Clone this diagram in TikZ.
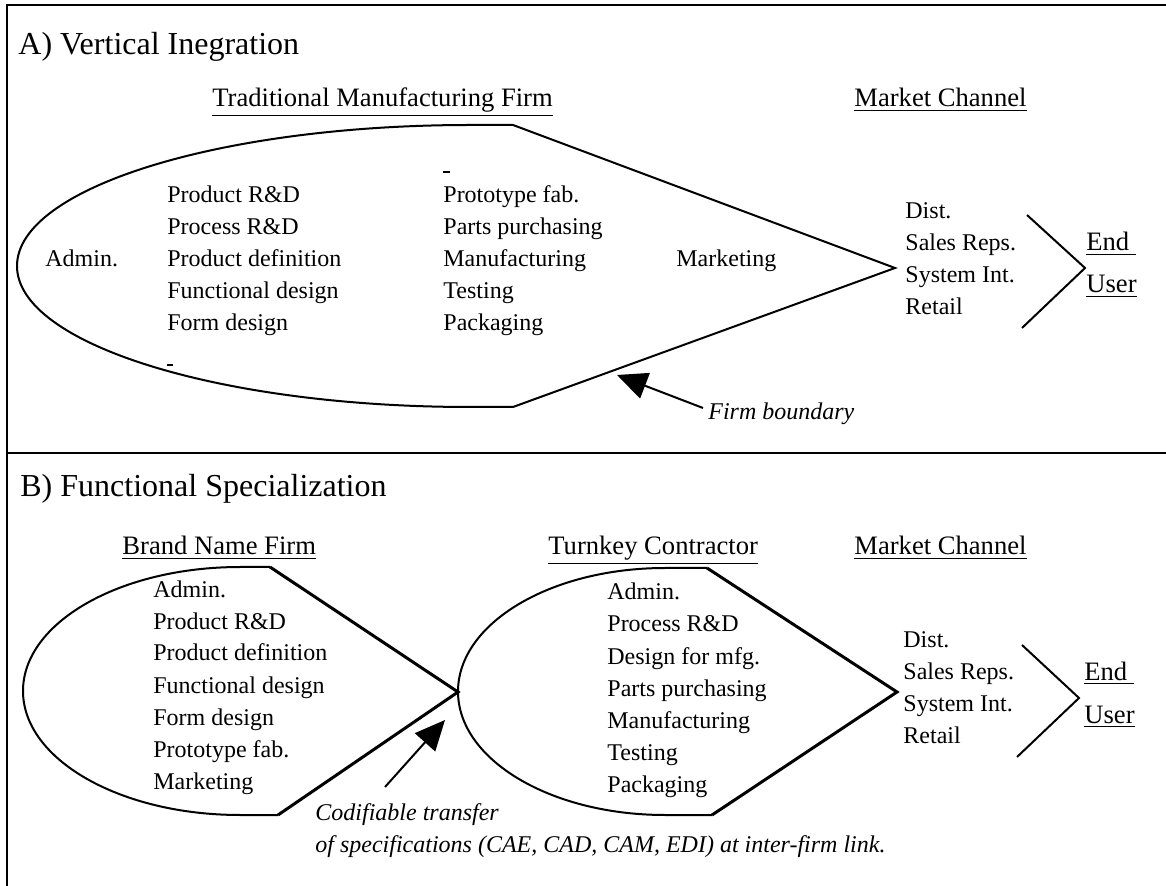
\documentclass[tikz,border=0pt]{standalone}
\usepackage{fontspec}
\setmainfont{Liberation Serif}
\usetikzlibrary{arrows.meta}

\begin{document}
\begin{tikzpicture}[
    x=0.5pt,
    y=-0.5pt,
    every node/.style={inner sep=0pt, anchor=base west},
    item/.style={font=\fontsize{12}{14}\selectfont},
    head/.style={font=\fontsize{13.3}{16}\selectfont},
    title/.style={font=\fontsize{16}{19}\selectfont},
    note/.style={font=\fontsize{12}{14}\selectfont\itshape},
    panelline/.style={draw=black, line width=1.2pt},
    boundary/.style={draw=black, line width=1pt},
    firmedge/.style={draw=black, line width=1pt},
    thickedge/.style={draw=black, line width=1.5pt},
    chevron/.style={draw=black, line width=1pt},
    pointer/.style={draw=black, line width=1pt, -{Triangle[length=15pt, width=13.5pt]}}
  ]
    \useasboundingbox (0,0) rectangle (1166,886);
    % frame
    \draw[panelline] (7,886) -- (7,5) -- (1166,5);
    \draw[panelline] (7,453) -- (1166,453);

    % A) vertical integration
    \node[title] (titleA) at (18,55) {A) Vertical Inegration};
    \node[head] (tmf) at (212,107) {\underline{Traditional Manufacturing Firm}};
    \node[head] (mchA) at (854,107) {\underline{Market Channel}};
    \draw[boundary] (513,125) -- (470,125)
      arc[start angle=270, end angle=90, x radius=453, y radius=141] -- (513,407);
    \draw[firmedge] (513,125) -- (895,268) -- (513,407);
    \draw[line width=0.8pt] (443,172) -- (450,172);
    \draw[line width=0.8pt] (167,365) -- (173,365);
    \node[item] (adminA) at (45,267) {Admin.};
    \foreach \txt [count=\i] in {Product R\&D, Process R\&D, Product definition, Functional design, Form design}
      \node[item] (a1-\i) at (167,{171+32*\i}) {\txt};
    \foreach \txt [count=\i] in {Prototype fab., Parts purchasing, Manufacturing, Testing, Packaging}
      \node[item] (a2-\i) at (443,{171+32*\i}) {\txt};
    \node[item] (mktA) at (676,267) {Marketing};
    \foreach \txt [count=\i] in {Dist., Sales Reps., System Int., Retail}
      \node[item] (chA-\i) at (905,{187+32*\i}) {\txt};
    \draw[chevron] (1027,215) -- (1085,268) -- (1022,328);
    \node[head] (endA) at (1086,251) {\underline{End\ }};
    \node[head] (userA) at (1086,293) {\underline{User}};
    \node[note] (fb) at (708,420) {Firm boundary};
    \coordinate (fbtail) at (703,408);
    \coordinate (fbtip) at (617,375);
    \draw[pointer] (fbtail) -- (fbtip);

    % B) functional specialization
    \node[title] (titleB) at (20,497) {B) Functional Specialization};
    \node[head] (bnf) at (122,555) {\underline{Brand Name Firm}};
    \node[head] (tkc) at (548,555) {\underline{Turnkey Contractor}};
    \node[head] (mchB) at (854,555) {\underline{Market Channel}};
    \draw[boundary] (270,567) -- (240,567)
      arc[start angle=270, end angle=90, x radius=217, y radius=124] -- (278,815);
    \draw[thickedge] (270,567) -- (458,692) -- (278,815);
    \draw[boundary] (707,568) -- (665,568)
      arc[start angle=270, end angle=90, x radius=207, y radius=123.5] -- (712,815);
    \draw[thickedge] (707,568) -- (897,692) -- (712,815);
    \foreach \txt [count=\i] in {Admin., Product R\&D, Product definition, Functional design, Form design, Prototype fab., Marketing}
      \node[item] (b1-\i) at (153,{565+32*\i}) {\txt};
    \foreach \txt [count=\i] in {Admin., Process R\&D, Design for mfg., Parts purchasing, Manufacturing, Testing, Packaging}
      \node[item] (b2-\i) at (607,{568+32*\i}) {\txt};
    \foreach \txt [count=\i] in {Dist., Sales Reps., System Int., Retail}
      \node[item] (chB-\i) at (903,{615+32*\i}) {\txt};
    \draw[chevron] (1022,645) -- (1079,698) -- (1017,757);
    \node[head] (endB) at (1084,680) {\underline{End\ }};
    \node[head] (userB) at (1084,723) {\underline{User}};
    \node[note] (ct1) at (315,820) {Codifiable transfer};
    \node[note] (ct2) at (315,852) {of specifications (CAE, CAD, CAM, EDI) at inter-firm link.};
    \coordinate (cttail) at (385,787);
    \coordinate (cttip) at (445,720);
    \draw[pointer] (cttail) -- (cttip);
  \end{tikzpicture}
\end{document}
